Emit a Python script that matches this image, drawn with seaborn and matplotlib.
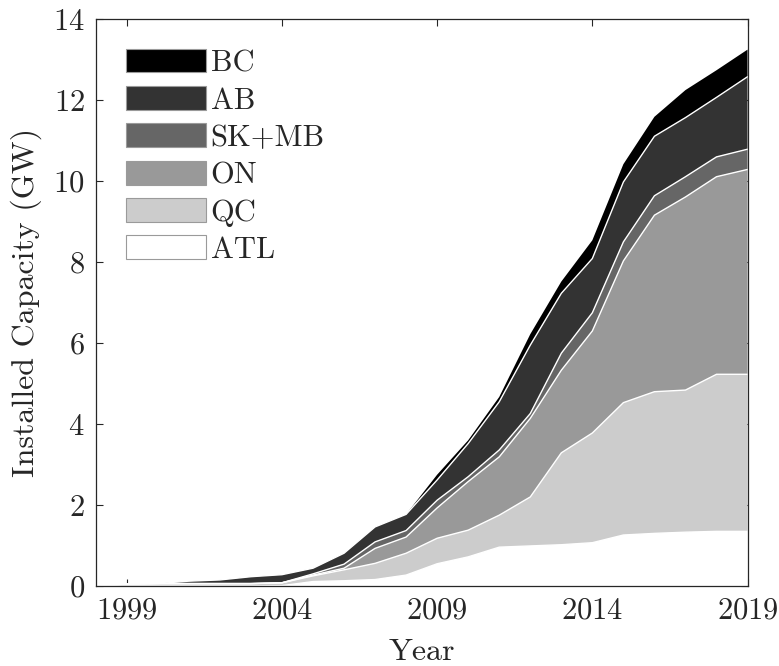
import numpy as np
import pandas as pd
import matplotlib
matplotlib.use("Agg")
import matplotlib.pyplot as plt
from matplotlib.patches import Patch
import seaborn as sns

years = list(range(1998, 2020))
atl = [0, 0, 0, 0, 0, 0, 0.01, 0.11, 0.13, 0.16, 0.27, 0.55, 0.72, 0.96, 0.99, 1.02, 1.07, 1.26, 1.30, 1.33, 1.35, 1.35]
qc = [0, 0.05, 0.06, 0.06, 0.06, 0.06, 0.07, 0.14, 0.27, 0.40, 0.54, 0.63, 0.66, 0.79, 1.21, 2.27, 2.71, 3.27, 3.50, 3.51, 3.88, 3.88]
on = [0, 0, 0, 0, 0, 0, 0, 0.02, 0.04, 0.37, 0.40, 0.75, 1.20, 1.44, 1.94, 2.04, 2.52, 3.50, 4.36, 4.77, 4.88, 5.06]
skmb = [0, 0, 0, 0, 0, 0, 0, 0.03, 0.10, 0.16, 0.16, 0.19, 0.12, 0.17, 0.12, 0.42, 0.45, 0.47, 0.48, 0.50, 0.49, 0.50]
ab = [0, 0, 0, 0.06, 0.09, 0.17, 0.20, 0.14, 0.27, 0.37, 0.40, 0.50, 0.82, 1.19, 1.69, 1.48, 1.34, 1.48, 1.47, 1.46, 1.47, 1.79]
bc = [0, 0, 0, 0, 0, 0, 0, 0, 0, 0, 0, 0.13, 0.08, 0.12, 0.27, 0.29, 0.45, 0.44, 0.48, 0.68, 0.67, 0.67]

series_names = ["ATL", "QC", "ON", "SK+MB", "AB", "BC"]
series_vals = [atl, qc, on, skmb, ab, bc]
colors = ["#ffffff", "#cccccc", "#999999", "#666666", "#333333", "#000000"]

sns.set_style("ticks")
plt.rcParams["font.family"] = ["cmr10", "DejaVu Serif"]
plt.rcParams["mathtext.fontset"] = "cm"
plt.rcParams["axes.formatter.use_mathtext"] = True
plt.rcParams["axes.unicode_minus"] = False

fig = plt.figure(figsize=(7.79, 6.66), dpi=100)
ax = fig.add_axes([0.1229, 0.1201, 0.8367, 0.851])

ax.stackplot(years, *series_vals, colors=colors, edgecolor="none", linewidth=0)

# white boundary lines at the top of each layer (except the topmost)
cum = np.cumsum(np.array(series_vals), axis=0)
rows = []
for name, tops in zip(series_names[:-1], cum[:-1]):
    for y, v in zip(years, tops):
        rows.append({"Year": y, "Top": v, "Layer": name})
df = pd.DataFrame(rows)
sns.lineplot(data=df, x="Year", y="Top", units="Layer", estimator=None,
             color="white", linewidth=1.0, ax=ax, legend=False)

ax.set_xlim(1998, 2019)
ax.set_ylim(0, 14)
ax.set_xticks([1999, 2004, 2009, 2014, 2019])
ax.set_yticks(range(0, 15, 2))
ax.tick_params(direction="in", length=5, width=0.8, top=True, right=True,
               labelsize=22, colors="#262626", pad=8)
for sp in ax.spines.values():
    sp.set_visible(True)
    sp.set_color("#262626")
    sp.set_linewidth(0.9)
ax.set_xlabel("Year", fontsize=23, color="#262626", labelpad=10)
ax.set_ylabel("Installed Capacity (GW)", fontsize=23, color="#262626", labelpad=8)

handles = [Patch(facecolor=c, edgecolor="#9a9a9a", linewidth=0.8) for c in colors[::-1]]
ax.legend(handles, series_names[::-1], loc="upper left", bbox_to_anchor=(0.047, 0.948),
          frameon=False, fontsize=22, handlelength=2.6, handleheight=0.82,
          handletextpad=0.16, labelspacing=0.29, borderpad=0, borderaxespad=0)

fig.savefig("out.png", dpi=100)
